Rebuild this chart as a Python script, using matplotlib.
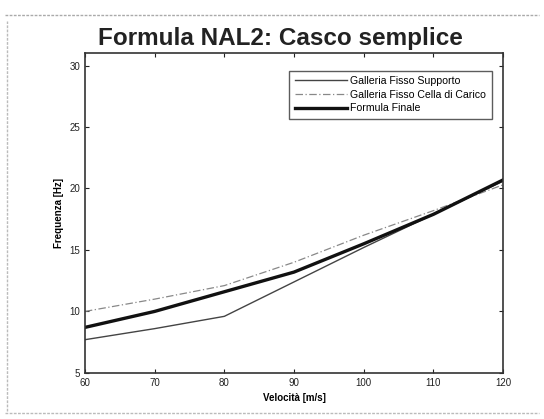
import matplotlib
matplotlib.use("Agg")
import matplotlib.pyplot as plt

velocita = [60, 70, 80, 90, 100, 110, 120]
supporto = [7.7, 8.6, 9.6, 12.4, 15.2, 17.9, 20.6]
cella = [10.0, 11.0, 12.1, 14.0, 16.2, 18.2, 20.3]
finale = [8.7, 10.0, 11.6, 13.2, 15.5, 17.9, 20.7]

labels = ["Galleria Fisso Supporto", "Galleria Fisso Cella di Carico", "Formula Finale"]
xticks = [60, 70, 80, 90, 100, 110, 120]
yticks = [5, 10, 15, 20, 25, 30]

plt.rcParams['font.family'] = ['Liberation Sans', 'DejaVu Sans']
fig = plt.figure(figsize=(5.44, 4.19), dpi=100)
ax = fig.add_axes([0.156, 0.110, 0.769, 0.763])

ax.plot(velocita, supporto, color='#444444', lw=1.0, ls='-', label=labels[0])
ax.plot(velocita, cella, color='#888888', lw=0.9, ls=(0, (6, 2, 1, 2)), label=labels[1])
ax.plot(velocita, finale, color='#111111', lw=2.4, ls='-', label=labels[2])

ax.set_xlim(60, 120)
ax.set_ylim(5, 31)
ax.set_xticks(xticks)
ax.set_yticks(yticks)
ax.tick_params(direction='in', top=True, right=True, labelsize=7, length=3, colors='#222222')
for s in ax.spines.values():
    s.set_color('#333333')
    s.set_linewidth(1.2)

ax.set_xlabel("Velocità [m/s]", fontsize=7, fontweight='bold', labelpad=4)
ax.set_ylabel("Frequenza [Hz]", fontsize=7, fontweight='bold', labelpad=4)
fig.text(0.515, 0.908, "Formula NAL2: Casco semplice", ha='center', va='center',
         fontsize=17.5, fontweight='bold', color='#222222')

leg = ax.legend(loc='upper right', fontsize=7.6, frameon=True, fancybox=False,
                edgecolor='#333333', borderpad=0.5, handlelength=5.0, handletextpad=0.3,
                labelspacing=0.35, bbox_to_anchor=(0.985, 0.962))
leg.get_frame().set_linewidth(1.0)

# scan-like border marks
fig.add_artist(plt.Line2D([0.01, 0.99], [0.965, 0.965], transform=fig.transFigure,
                          color='#aaaaaa', lw=1.0, ls=(0, (2, 1))))
fig.add_artist(plt.Line2D([0.012, 0.012], [0.02, 0.95], transform=fig.transFigure,
                          color='#bbbbbb', lw=1.0, ls=(0, (2, 1))))
fig.add_artist(plt.Line2D([0.01, 0.99], [0.015, 0.015], transform=fig.transFigure,
                          color='#bbbbbb', lw=1.0, ls=(0, (2, 1))))

fig.savefig("out.png", dpi=100)
